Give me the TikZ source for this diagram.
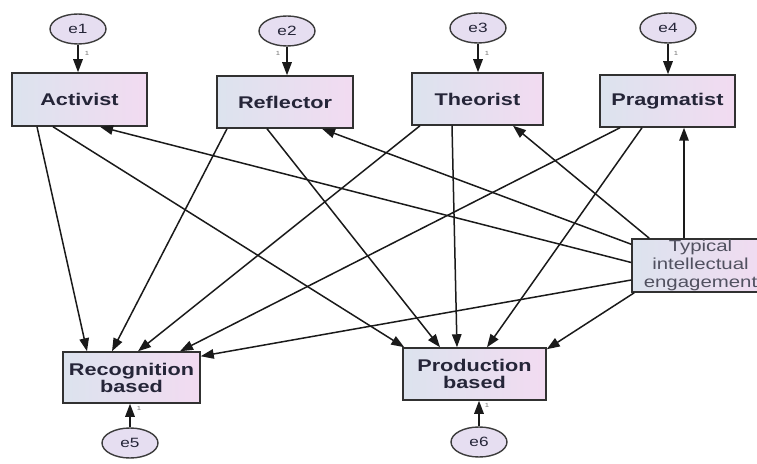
\documentclass[tikz,border=0pt]{standalone}
\usepackage{fontspec}
\setmainfont{Liberation Sans}[FakeStretch=1.28]
\usetikzlibrary{arrows.meta,calc,shapes.geometric}
\definecolor{boxL}{HTML}{DCE3EE}
\definecolor{boxR}{HTML}{F2DBF1}
\definecolor{errfill}{HTML}{E6DEF1}
\definecolor{txt}{HTML}{252538}
\definecolor{ln}{HTML}{1A1A1A}
\tikzset{
  var/.style={draw=ln!90, line width=1.5bp, left color=boxL, right color=boxR,
    inner sep=0pt, text=txt,
    font=\bfseries\fontsize{17}{17}\selectfont, align=center},
  tievar/.style={draw=ln!90, line width=1.5bp, left color=boxL, right color=boxR,
    inner sep=0pt, text=txt!80, font=\fontsize{16}{18}\selectfont, align=center},
  err/.style={ellipse, draw=ln!85, line width=1.4bp, fill=errfill, inner sep=0pt,
    minimum width=56bp, minimum height=30bp, text=txt, font=\fontsize{13.5}{13.5}\selectfont},
  arr/.style={draw=ln, line width=1.5bp, -{Triangle[length=13bp,width=9.5bp]}},
  one/.style={font=\fontsize{6}{6}\selectfont, text=black!55, inner sep=0pt}
}
\begin{document}
\begin{tikzpicture}[x=1bp,y=-1bp]
\useasboundingbox (0,0) rectangle (757,464);
% observed variables
\node[var, minimum width=135bp, minimum height=53bp] (act) at (79.5,99.5) {Activist};
\node[var, minimum width=136bp, minimum height=52bp] (ref) at (285,102) {Reflector};
\node[var, minimum width=131bp, minimum height=52bp] (the) at (477.5,99) {Theorist};
\node[var, minimum width=135bp, minimum height=52bp] (pra) at (667.5,101) {Pragmatist};
\node[var, minimum width=137bp, minimum height=51bp] (rec) at (131.5,377.5) {Recognition\\based};
\node[var, minimum width=143bp, minimum height=52bp] (pro) at (474.5,374) {Production\\based};
\node[tievar, minimum width=137bp, minimum height=53bp] (tie) at (700.5,265.5) {Typical\\intellectual\\engagement};
% error terms
\node[err] (e1) at (78,29) {e1};
\node[err] (e2) at (287,31) {e2};
\node[err] (e3) at (478,28) {e3};
\node[err] (e4) at (668,28) {e4};
\node[err] (e5) at (130,443) {e5};
\node[err] (e6) at (479,442) {e6};
% error paths
\draw[arr] (e1) -- (e1 |- act.north);
\draw[arr] (e2) -- (e2 |- ref.north);
\draw[arr] (e3) -- (e3 |- the.north);
\draw[arr] (e4) -- (e4 |- pra.north);
\draw[arr] (e5) -- (e5 |- rec.south);
\draw[arr] (e6) -- (e6 |- pro.south);
\node[one] (o1) at (87,53) {1};
\node[one] (o2) at (278,53) {1};
\node[one] (o3) at (487,53) {1};
\node[one] (o4) at (676,53) {1};
\node[one] (o5) at (139,408) {1};
\node[one] (o6) at (487,405) {1};
% style -> outcomes
\draw[arr] ([xshift=-42.5bp]act.south) -- ([xshift=-44.5bp]rec.north);
\draw[arr] ([xshift=-26.5bp]act.south) -- ([xshift=2bp]pro.north west);
\draw[arr] ([xshift=-58bp]ref.south) -- ([xshift=-19.5bp]rec.north);
\draw[arr] ([xshift=-18bp]ref.south) -- ([xshift=-34.5bp]pro.north);
\draw[arr] ([xshift=-57.5bp]the.south) -- ([xshift=6.5bp]rec.north);
\draw[arr] ([xshift=-25.5bp]the.south) -- ([xshift=-17.5bp]pro.north);
\draw[arr] ([xshift=-47.5bp]pra.south) -- ([xshift=48.5bp]rec.north);
\draw[arr] ([xshift=-25.5bp]pra.south) -- ([xshift=12.5bp]pro.north);
% TIE paths
\draw[arr] ([yshift=3bp]tie.west) -- ([xshift=20.5bp]act.south);
\draw[arr] ([yshift=-6bp]tie.north west) -- ([xshift=37bp]ref.south);
\draw[arr] ([xshift=18bp]tie.north west) -- ([xshift=35.5bp]the.south);
\draw[arr] ([xshift=-16.5bp]tie.north) -- ([xshift=-16.5bp]tie.north |- pra.south);
\draw[arr] ([yshift=-14.5bp]tie.west) -- ([yshift=-5bp]rec.north east);
\draw[arr] ([xshift=3bp]tie.south west) -- ([yshift=-2bp]pro.north east);
\end{tikzpicture}
\end{document}
